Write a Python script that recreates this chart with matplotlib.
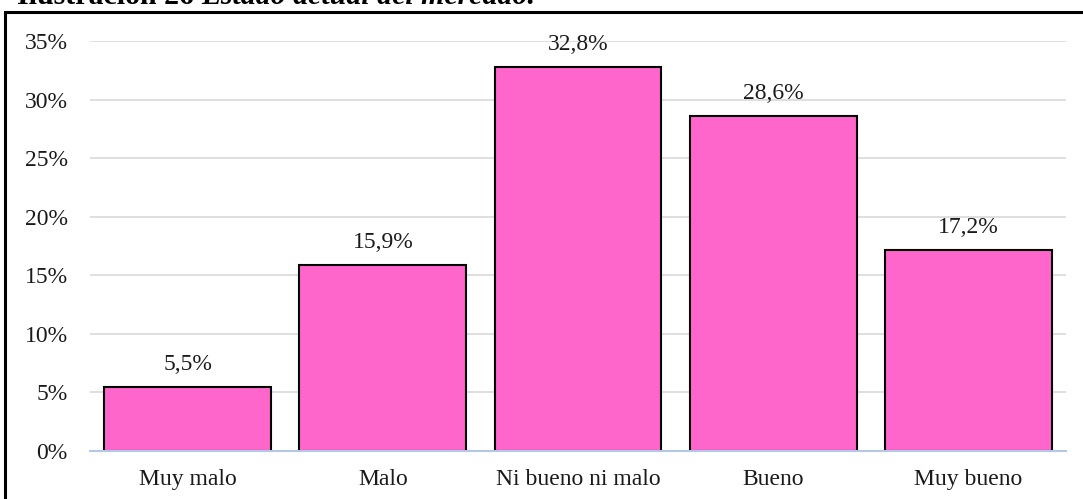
import matplotlib.pyplot as plt
from matplotlib.patches import Rectangle
from matplotlib.ticker import FuncFormatter

categorias = ['Muy malo', 'Malo', 'Ni bueno ni malo', 'Bueno', 'Muy bueno']
valores = [5.5, 15.9, 32.8, 28.6, 17.2]
etiquetas = ['5,5%', '15,9%', '32,8%', '28,6%', '17,2%']

plt.rcParams['font.family'] = ['Liberation Serif', 'DejaVu Serif']

W, H = 1083, 499
fig = plt.figure(figsize=(W / 100, H / 100), dpi=100)
ax = fig.add_axes([90 / W, 1 - 451 / H, 976 / W, 410 / H])

x = range(len(categorias))
ax.bar(x, valores, width=0.855, color='#FF66CC', edgecolor='black', linewidth=1.5, zorder=3)

for i, (v, t) in enumerate(zip(valores, etiquetas)):
    ax.annotate(t, (i, v), xytext=(0, 12), textcoords='offset points',
                ha='center', va='baseline', fontsize=17, color='#1a1a1a')

ax.set_xlim(-0.5, len(categorias) - 0.5)
ax.set_ylim(0, 35)
ax.set_yticks(range(0, 36, 5))
ax.yaxis.set_major_formatter(FuncFormatter(lambda v, p: f'{int(v)}%'))
ax.set_xticks(list(x))
ax.set_xticklabels(categorias)
ax.tick_params(axis='both', length=0, labelsize=17, colors='#1a1a1a')
ax.tick_params(axis='x', pad=13)
ax.tick_params(axis='y', pad=16)

ax.grid(axis='y', color='#d9d9d9', linewidth=1.2, zorder=0)
for s in ['top', 'right', 'left']:
    ax.spines[s].set_visible(False)
ax.spines['bottom'].set_color('#b4c7e7')
ax.spines['bottom'].set_linewidth(1.5)
ax.spines['bottom'].set_zorder(4)

# marco exterior del gráfico (lado derecho e inferior fuera de la imagen)
fig.patches.append(Rectangle((5 / W, -0.05), 1.2, 1 - 12 / H + 0.05, transform=fig.transFigure,
                             fill=False, edgecolor='black', linewidth=2.2))

# título recortado en la parte superior, como en la imagen original
t1 = fig.text(17 / W, 1 - 4 / H, 'Ilustración 26 ', fontsize=21.5, fontweight='bold', va='baseline')
fig.canvas.draw()
bb = t1.get_window_extent()
fig.text(bb.x1 / W, 1 - 4 / H, 'Estado actual del mercado.', fontsize=21.5, style='italic',
         fontweight='bold', va='baseline')

fig.savefig('out.png', dpi=100)
